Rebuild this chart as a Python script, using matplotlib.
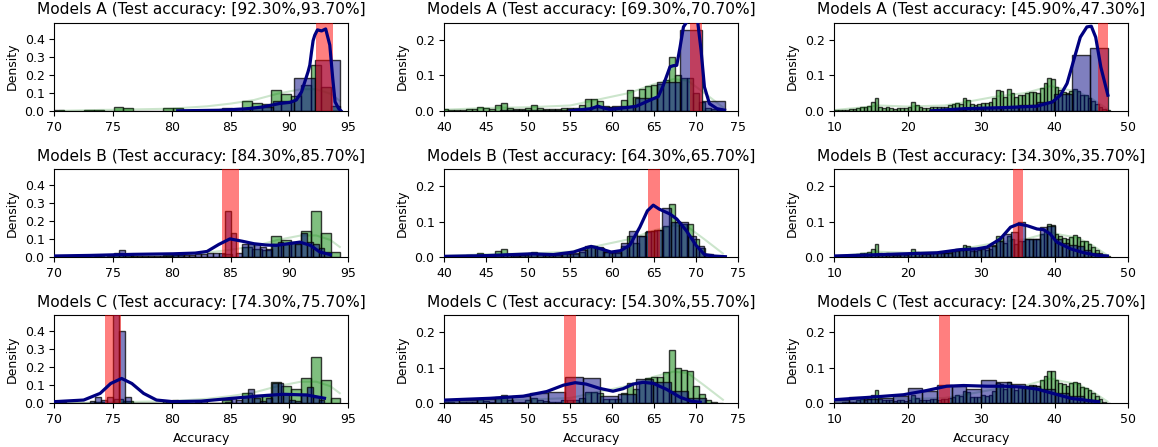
import numpy as np
import matplotlib
matplotlib.use("Agg")
import matplotlib.pyplot as plt
from matplotlib.colors import to_rgba
from matplotlib.ticker import MultipleLocator

# ---- panel setup -------------------------------------------------------
groups = ["A", "B", "C"]
col_xlim = [(70, 95), (40, 75), (10, 50)]
col_ylim = [0.49, 0.248, 0.248]
col_xstep = [5, 5, 10]
intervals = [
    [(92.3, 93.7), (69.3, 70.7), (45.9, 47.3)],
    [(84.3, 85.7), (64.3, 65.7), (34.3, 35.7)],
    [(74.3, 75.7), (54.3, 55.7), (24.3, 25.7)],
]

# ---- reference (green) histograms, one per column ----------------------
ref1_start, ref1_width = 70.0, 0.84
ref1_dens = [0.003, 0.0, 0.0, 0.003, 0.006, 0.0, 0.022, 0.013, 0.0, 0.0,
             0.0, 0.013, 0.013, 0.0, 0.0, 0.0, 0.0, 0.018, 0.0, 0.056,
             0.044, 0.039, 0.118, 0.095, 0.08, 0.143, 0.257, 0.132, 0.028]
ref2_start, ref2_width = 39.67, 0.714
ref2_dens = [0.004, 0.003, 0.002, 0.003, 0.005, 0.004, 0.011, 0.007, 0.004, 0.016,
             0.023, 0.009, 0.004, 0.005, 0.008, 0.015, 0.009, 0.006, 0.005, 0.005,
             0.008, 0.008, 0.008, 0.015, 0.032, 0.032, 0.028, 0.013, 0.011, 0.011,
             0.03, 0.058, 0.039, 0.06, 0.071, 0.074, 0.075, 0.088, 0.15, 0.10,
             0.093, 0.092, 0.05, 0.025, 0.008, 0.004, 0.002]
ref3_start, ref3_width = 10.0, 0.5
ref3_dens = [0.002, 0.002, 0.003, 0.003, 0.004, 0.004, 0.008, 0.011, 0.01, 0.013,
             0.024, 0.037, 0.012, 0.008, 0.01, 0.008, 0.006, 0.009, 0.008, 0.007,
             0.01, 0.024, 0.015, 0.01, 0.009, 0.008, 0.011, 0.012, 0.01, 0.012,
             0.011, 0.015, 0.018, 0.022, 0.02, 0.035, 0.031, 0.018, 0.017, 0.019,
             0.022, 0.021, 0.024, 0.035, 0.058, 0.055, 0.04, 0.06, 0.05, 0.038,
             0.045, 0.044, 0.05, 0.052, 0.052, 0.05, 0.065, 0.077, 0.092, 0.09,
             0.066, 0.058, 0.053, 0.05, 0.057, 0.061, 0.057, 0.045, 0.044, 0.036,
             0.029, 0.02, 0.011, 0.005, 0.002]

ref1_kde_x = [70.5, 74, 77, 80, 83, 85, 87, 89, 91, 92.3, 93.5, 94.3]
ref1_kde_y = [0.0, 0.005, 0.008, 0.012, 0.025, 0.04, 0.06, 0.095, 0.12, 0.12, 0.095, 0.056]
ref2_kde_x = [40, 45, 50, 55, 58, 62, 65, 67.3, 69, 71, 73.2]
ref2_kde_y = [0.003, 0.008, 0.01, 0.015, 0.03, 0.05, 0.075, 0.089, 0.085, 0.05, 0.01]
ref3_kde_x = [10, 14, 16, 20, 25, 28, 32, 36, 39.5, 41, 43, 45, 47.2]
ref3_kde_y = [0.002, 0.01, 0.015, 0.012, 0.015, 0.025, 0.04, 0.05, 0.07, 0.062, 0.055, 0.035, 0.005]

# ---- model (blue) histograms, one per panel ----------------------------
a1_edges = [84.9, 86.7, 88.6, 90.43, 92.2, 94.3]
a1_dens = [0.01, 0.02, 0.055, 0.185, 0.28]
a2_start, a2_width = 46.6, 2.68
a2_dens = [0.001, 0.001, 0.002, 0.004, 0.01, 0.013, 0.035, 0.08, 0.227, 0.027]
a3_start, a3_width = 22.96, 2.43
a3_dens = [0.002, 0.003, 0.006, 0.008, 0.01, 0.015, 0.025, 0.046, 0.156, 0.178]

b1_start, b1_width = 70.0, 0.5
b1_dens = [0.003, 0.003, 0.002, 0.002, 0.002, 0.002, 0.003, 0.005, 0.003, 0.005,
           0.015, 0.04, 0.01, 0.004, 0.004, 0.004, 0.004, 0.005, 0.005, 0.006,
           0.015, 0.015, 0.012, 0.012, 0.015, 0.015, 0.02, 0.025, 0.02, 0.255,
           0.135, 0.02, 0.07, 0.07, 0.07, 0.055, 0.045, 0.075, 0.085, 0.07,
           0.085, 0.07, 0.135, 0.085, 0.07, 0.05, 0.03]
b2_start, b2_width = 40.0, 1.0
b2_dens = [0.002, 0.002, 0.003, 0.003, 0.006, 0.004, 0.006, 0.008, 0.005, 0.006,
           0.01, 0.008, 0.006, 0.008, 0.01, 0.012, 0.02, 0.03, 0.025, 0.015,
           0.015, 0.04, 0.074, 0.06, 0.074, 0.075, 0.137, 0.1, 0.1, 0.06,
           0.03, 0.008]
b3_start, b3_width = 10.0, 1.0
b3_dens = [0.002, 0.002, 0.003, 0.005, 0.006, 0.008, 0.007, 0.006, 0.007, 0.008,
           0.01, 0.01, 0.009, 0.01, 0.011, 0.012, 0.018, 0.02, 0.022, 0.022,
           0.025, 0.03, 0.045, 0.065, 0.07, 0.098, 0.05, 0.05, 0.085, 0.088,
           0.05, 0.04, 0.035, 0.03, 0.02, 0.01]

c1_start, c1_width = 70.0, 0.5
c1_dens = [0.008, 0.005, 0.003, 0.002, 0.002, 0.0, 0.015, 0.037, 0.018, 0.037,
           0.65, 0.4, 0.035, 0.0, 0.0, 0.0, 0.0, 0.0, 0.0, 0.01,
           0.02, 0.01, 0.0, 0.0, 0.005, 0.01, 0.0, 0.0, 0.0, 0.008,
           0.03, 0.02, 0.035, 0.08, 0.03, 0.015, 0.03, 0.115, 0.115, 0.05,
           0.02, 0.01, 0.05, 0.09, 0.035, 0.02]
c2_start, c2_width = 39.7, 2.1
c2_dens = [0.01, 0.01, 0.012, 0.018, 0.02, 0.03, 0.033, 0.073, 0.07, 0.02,
           0.025, 0.067, 0.06, 0.035, 0.015]
c3_start, c3_width = 10.0, 2.0
c3_dens = [0.01, 0.017, 0.012, 0.015, 0.02, 0.042, 0.035, 0.052, 0.05, 0.04,
           0.065, 0.06, 0.055, 0.05, 0.04, 0.03, 0.02, 0.01]

# ---- model KDE curves --------------------------------------------------
a1_kde_x = [80.5, 84.0, 86.0, 86.65, 87.8, 89.2, 90.06, 90.6, 91.05, 91.6, 91.75,
            91.9, 92.03, 92.17, 92.4, 92.75, 93.1, 93.45, 93.7, 93.9, 94.2, 94.4]
a1_kde_y = [0.0, 0.003, 0.01, 0.013, 0.022, 0.041, 0.047, 0.06, 0.106, 0.217, 0.254,
            0.33, 0.39, 0.42, 0.45, 0.444, 0.455, 0.366, 0.18, 0.05, 0.013, 0.0]
a2_kde_x = [55.0, 55.75, 57.5, 58.3, 59.0, 59.7, 60.9, 62.0, 62.9, 64.5, 65.5, 66.1,
            66.9, 67.3, 67.7, 68.1, 68.5, 68.9, 69.5, 70.2, 70.6, 71.0, 71.6, 72.5, 73.4]
a2_kde_y = [0.0, 0.002, 0.006, 0.013, 0.008, 0.004, 0.007, 0.01, 0.013, 0.03, 0.04, 0.072,
            0.124, 0.127, 0.128, 0.18, 0.236, 0.25, 0.33, 0.25, 0.17, 0.067, 0.02, 0.006, 0.002]
a3_kde_x = [23.2, 27.6, 33.0, 37.6, 39.7, 40.8, 41.7, 42.6, 43.5, 44.4, 45.0, 45.6, 46.3, 47.26]
a3_kde_y = [0.0, 0.006, 0.009, 0.013, 0.025, 0.044, 0.077, 0.142, 0.207, 0.236, 0.238,
            0.207, 0.123, 0.044]
b1_kde_x = [70.0, 73.0, 76.7, 80.1, 82.0, 83.0, 84.0, 84.95, 86.0, 87.0, 88.0, 88.9,
            90.0, 90.9, 91.8, 92.6, 93.5]
b1_kde_y = [0.006, 0.009, 0.015, 0.018, 0.022, 0.031, 0.07, 0.101, 0.088, 0.074, 0.067,
            0.065, 0.075, 0.083, 0.065, 0.028, 0.013]
b2_kde_x = [40, 45, 50.4, 53, 55.4, 56.9, 57.5, 58.5, 59.9, 61.0, 62.1, 63.3, 64.2, 64.9,
            65.6, 66.9, 67.7, 68.85, 70.0, 71.0, 72.0, 73.5]
b2_kde_y = [0.002, 0.004, 0.009, 0.007, 0.014, 0.026, 0.03, 0.024, 0.014, 0.018, 0.033,
            0.084, 0.13, 0.146, 0.135, 0.121, 0.107, 0.074, 0.033, 0.007, 0.003, 0.001]
b3_kde_x = [10, 14.9, 19.4, 24, 27.2, 29.4, 30.8, 32.6, 34, 35.1, 36.3, 37.6, 38.5,
            39.4, 40.3, 42.2, 44, 45.8, 47.2]
b3_kde_y = [0.003, 0.006, 0.009, 0.012, 0.021, 0.023, 0.028, 0.051, 0.084, 0.093, 0.088,
            0.079, 0.077, 0.065, 0.042, 0.023, 0.012, 0.005, 0.003]
c1_kde_x = [70, 72.5, 73.9, 74.8, 75.73, 76.6, 77.6, 78.7, 80.1, 82.5, 85.2, 88.1,
            89.5, 91.5, 93.0]
c1_kde_y = [0.009, 0.018, 0.055, 0.11, 0.138, 0.11, 0.055, 0.018, 0.009, 0.012, 0.028,
            0.044, 0.05, 0.046, 0.028]
c2_kde_x = [40, 45.4, 49.4, 52.2, 54.2, 55.6, 56.9, 58.5, 60.1, 61.3, 62.5, 63.7, 64.9,
            66.5, 68.1, 69.4, 70.5]
c2_kde_y = [0.009, 0.014, 0.02, 0.033, 0.051, 0.058, 0.054, 0.042, 0.034, 0.041, 0.054,
            0.059, 0.056, 0.039, 0.017, 0.006, 0.003]
c3_kde_x = [10, 14.9, 19.4, 22.6, 25.3, 27.6, 30.8, 33.1, 35.3, 37.6, 39.9, 42.2, 44.9, 46.0]
c3_kde_y = [0.01, 0.017, 0.024, 0.036, 0.048, 0.05, 0.048, 0.048, 0.046, 0.04, 0.027,
            0.014, 0.007, 0.004]


def uniform_edges(start, width, dens):
    return start + width * np.arange(len(dens) + 1)


ref_hists = [(uniform_edges(ref1_start, ref1_width, ref1_dens), ref1_dens),
             (uniform_edges(ref2_start, ref2_width, ref2_dens), ref2_dens),
             (uniform_edges(ref3_start, ref3_width, ref3_dens), ref3_dens)]
ref_kdes = [(ref1_kde_x, ref1_kde_y), (ref2_kde_x, ref2_kde_y), (ref3_kde_x, ref3_kde_y)]

model_hists = [
    [(np.array(a1_edges), a1_dens),
     (uniform_edges(a2_start, a2_width, a2_dens), a2_dens),
     (uniform_edges(a3_start, a3_width, a3_dens), a3_dens)],
    [(uniform_edges(b1_start, b1_width, b1_dens), b1_dens),
     (uniform_edges(b2_start, b2_width, b2_dens), b2_dens),
     (uniform_edges(b3_start, b3_width, b3_dens), b3_dens)],
    [(uniform_edges(c1_start, c1_width, c1_dens), c1_dens),
     (uniform_edges(c2_start, c2_width, c2_dens), c2_dens),
     (uniform_edges(c3_start, c3_width, c3_dens), c3_dens)],
]
model_kdes = [
    [(a1_kde_x, a1_kde_y), (a2_kde_x, a2_kde_y), (a3_kde_x, a3_kde_y)],
    [(b1_kde_x, b1_kde_y), (b2_kde_x, b2_kde_y), (b3_kde_x, b3_kde_y)],
    [(c1_kde_x, c1_kde_y), (c2_kde_x, c2_kde_y), (c3_kde_x, c3_kde_y)],
]


def draw_hist(ax, edges, dens, color, z):
    centers = (edges[:-1] + edges[1:]) / 2
    ax.hist(centers, bins=edges, weights=dens, histtype="bar",
            facecolor=to_rgba(color, 0.5), edgecolor=to_rgba("black", 0.75),
            linewidth=1.0, zorder=z)


fig, axes = plt.subplots(3, 3, figsize=(11.58, 4.47), dpi=100)
fig.subplots_adjust(left=0.0469, right=0.9741, bottom=0.0978, top=0.9493,
                    wspace=0.328, hspace=0.659)

for r in range(3):
    for c in range(3):
        ax = axes[r, c]
        edges, dens = ref_hists[c]
        draw_hist(ax, edges, dens, "green", 1)
        kx, ky = ref_kdes[c]
        ax.plot(kx, ky, color="green", alpha=0.2, linewidth=1.5, zorder=2)

        edges, dens = model_hists[r][c]
        draw_hist(ax, edges, dens, "navy", 3)

        lo, hi = intervals[r][c]
        ax.axvspan(lo, hi, color="red", alpha=0.5, linewidth=0, zorder=4)

        kx, ky = model_kdes[r][c]
        ax.plot(kx, ky, color="navy", linewidth=2.3, zorder=5)

        ax.set_xlim(*col_xlim[c])
        ax.set_ylim(0, col_ylim[c])
        ax.xaxis.set_major_locator(MultipleLocator(col_xstep[c]))
        ax.yaxis.set_major_locator(MultipleLocator(0.1))
        ax.tick_params(labelsize=9)
        ax.set_ylabel("Density", fontsize=9)
        ax.set_title("Models %s (Test accuracy: [%.2f%%,%.2f%%]" % (groups[r], lo, hi),
                     fontsize=11.1)
        if r == 2:
            ax.set_xlabel("Accuracy", fontsize=9)

plt.savefig("out.png", dpi=100)
